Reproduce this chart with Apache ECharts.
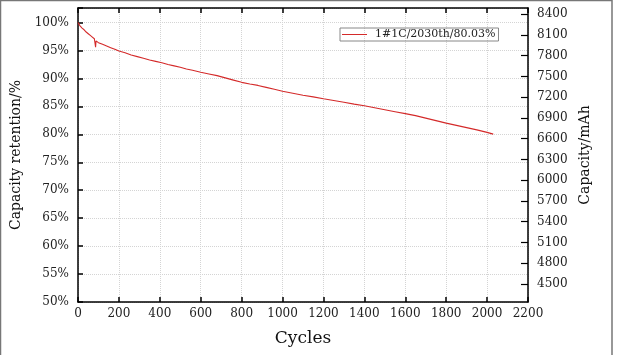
<!DOCTYPE html>
<html>
<head>
<meta charset="utf-8">
<script src="https://cdn.jsdelivr.net/npm/echarts@6/dist/echarts.min.js"></script>
<style>
html,body{margin:0;padding:0;background:#fff;}
#c{width:617px;height:355px;}
</style>
</head>
<body>
<div id="c"></div>
<script>
var seriesName = '1#1C/2030th/80.03%';
var cycles = [0,5,10,20,30,40,50,60,70,80,85,86,88,90,100,120,140,160,180,200,230,260,290,320,350,380,410,440,470,500,530,560,600,640,680,720,760,800,840,880,920,960,1000,1050,1100,1150,1200,1250,1300,1350,1400,1450,1500,1550,1600,1650,1700,1750,1800,1850,1900,1950,2000,2030];
var retention = [100.0,99.7,99.4,99.0,98.7,98.3,98.0,97.7,97.4,97.1,96.9,95.6,96.7,96.6,96.4,96.1,95.8,95.5,95.2,94.9,94.6,94.2,93.9,93.6,93.3,93.05,92.8,92.5,92.25,92.0,91.7,91.45,91.1,90.8,90.5,90.1,89.7,89.3,89.0,88.75,88.4,88.05,87.7,87.35,87.0,86.7,86.35,86.05,85.75,85.4,85.1,84.75,84.4,84.05,83.7,83.35,82.9,82.45,82.0,81.6,81.2,80.8,80.35,80.03];
var capacityTicks = [4500,4800,5100,5400,5700,6000,6300,6600,6900,7200,7500,7800,8100,8400];

var lineData = cycles.map(function(c,i){return [c, retention[i]];});
var serif = 'DejaVu Serif';
var plain = function(v){return String(v);};
var chart = echarts.init(document.getElementById('c'), null, {renderer:'canvas'});
chart.setOption({
  animation:false,
  backgroundColor:'#fff',
  grid:{left:78,top:8,right:89,bottom:53,containLabel:false},
  graphic:[{type:'rect',shape:{x:0.5,y:0.5,width:611.5,height:360},style:{fill:'none',stroke:'#777',lineWidth:1.5},silent:true}],
  legend:{
    left:340,top:28,orient:'horizontal',
    padding:[1,3,1,2],
    borderColor:'#888',borderWidth:1,
    itemWidth:25,itemHeight:1,
    icon:'rect',
    textStyle:{fontFamily:serif,fontSize:11,color:'#222',padding:[0,0,0,3]},
    data:[{name:seriesName}]
  },
  xAxis:[{
    type:'value',position:'bottom',min:0,max:2200,interval:200,
    name:'Cycles',nameLocation:'middle',nameGap:28,
    nameTextStyle:{fontFamily:serif,fontSize:17,color:'#111'},
    axisLine:{show:true,onZero:false,lineStyle:{color:'#000',width:1.5}},
    axisTick:{show:true,inside:true,length:5,lineStyle:{color:'#000',width:1.5}},
    axisLabel:{fontFamily:serif,fontSize:12,color:'#222',margin:6,formatter:plain},
    splitLine:{show:true,lineStyle:{type:'dotted',color:'#d4d4d4',width:1}}
  },{
    type:'value',position:'top',min:0,max:2200,interval:200,
    axisLine:{show:true,onZero:false,lineStyle:{color:'#000',width:1.5}},
    axisTick:{show:true,inside:true,length:5,lineStyle:{color:'#000',width:1.5}},
    axisLabel:{show:false},
    splitLine:{show:false}
  }],
  yAxis:[{
    type:'value',position:'left',min:50,max:102.6,interval:5,
    name:'Capacity retention/%',nameLocation:'middle',nameGap:51,nameRotate:90,
    nameTextStyle:{fontFamily:serif,fontSize:14,color:'#111'},
    axisLine:{show:true,onZero:false,lineStyle:{color:'#000',width:1.5}},
    axisTick:{show:true,inside:true,length:5,lineStyle:{color:'#000',width:1.5}},
    axisLabel:{fontFamily:serif,fontSize:12,color:'#222',margin:9,
      formatter:function(v){return (Math.abs(v%5)<1e-6)? (v+'%') : '';}},
    splitLine:{show:true,lineStyle:{type:'dotted',color:'#d4d4d4',width:1}}
  },{
    type:'value',position:'right',min:4240,max:8488,
    name:'Capacity/mAh',nameLocation:'middle',nameGap:46,nameRotate:90,
    nameTextStyle:{fontFamily:serif,fontSize:14,color:'#111'},
    axisLine:{show:true,onZero:false,lineStyle:{color:'#000',width:1.5}},
    axisTick:{show:true,inside:true,length:7,customValues:capacityTicks,lineStyle:{color:'#000',width:1.2}},
    axisLabel:{fontFamily:serif,fontSize:12,color:'#222',margin:9,customValues:capacityTicks,formatter:plain},
    splitLine:{show:false}
  }],
  series:[{
    name:seriesName,type:'line',xAxisIndex:0,yAxisIndex:0,
    data:lineData,showSymbol:false,symbol:'none',
    lineStyle:{color:'#d42a2a',width:1.1},
    itemStyle:{color:'#d42a2a'}
  }]
});
</script>
</body>
</html>
